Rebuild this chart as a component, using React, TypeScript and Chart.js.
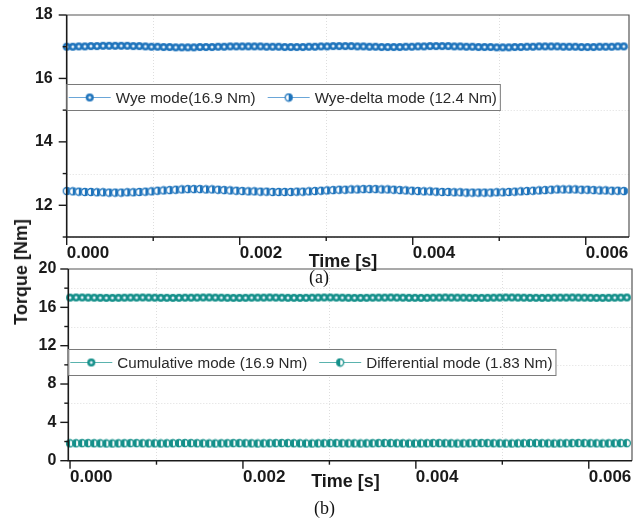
import React, { useEffect, useRef } from 'react';
import { Chart, registerables } from 'chart.js';

Chart.register(...registerables);

// Sample times in microseconds
const TIME_US = [
  0, 70, 140, 210, 280, 350, 420, 490, 560, 630,
  700, 770, 840, 910, 980, 1050, 1120, 1190, 1260, 1330,
  1400, 1470, 1540, 1610, 1680, 1750, 1820, 1890, 1960, 2030,
  2100, 2170, 2240, 2310, 2380, 2450, 2520, 2590, 2660, 2730,
  2800, 2870, 2940, 3010, 3080, 3150, 3220, 3290, 3360, 3430,
  3500, 3570, 3640, 3710, 3780, 3850, 3920, 3990, 4060, 4130,
  4200, 4270, 4340, 4410, 4480, 4550, 4620, 4690, 4760, 4830,
  4900, 4970, 5040, 5110, 5180, 5250, 5320, 5390, 5460, 5530,
  5600, 5670, 5740, 5810, 5880, 5950, 6020, 6090, 6160, 6230,
  6300, 6370, 6440,
];

const WYE = [
  17.00, 17.00, 17.01, 17.01, 17.02, 17.02, 17.03, 17.03, 17.03, 17.03,
  17.03, 17.02, 17.02, 17.01, 17.00, 17.00, 16.99, 16.99, 16.98, 16.98,
  16.98, 16.98, 16.99, 16.99, 16.99, 17.00, 17.00, 17.01, 17.01, 17.01,
  17.01, 17.01, 17.01, 17.00, 17.00, 17.00, 16.99, 16.99, 16.99, 16.99,
  17.00, 17.00, 17.01, 17.01, 17.02, 17.02, 17.02, 17.02, 17.01, 17.01,
  17.00, 17.00, 16.99, 16.99, 16.99, 16.99, 17.00, 17.00, 17.01, 17.01,
  17.02, 17.02, 17.02, 17.02, 17.01, 17.01, 17.00, 17.00, 16.99, 16.99,
  16.99, 16.98, 16.98, 16.98, 16.99, 16.99, 17.00, 17.00, 17.01, 17.01,
  17.01, 17.01, 17.00, 17.00, 17.00, 16.99, 16.99, 16.99, 17.00, 17.00,
  17.00, 17.01, 17.01,
];

const WYE_DELTA = [
  12.45, 12.44, 12.43, 12.42, 12.42, 12.41, 12.41, 12.40, 12.40, 12.40,
  12.41, 12.41, 12.42, 12.43, 12.44, 12.46, 12.47, 12.48, 12.49, 12.50,
  12.51, 12.51, 12.51, 12.50, 12.50, 12.49, 12.48, 12.47, 12.46, 12.45,
  12.44, 12.44, 12.43, 12.43, 12.42, 12.42, 12.42, 12.42, 12.43, 12.43,
  12.44, 12.45, 12.46, 12.47, 12.48, 12.49, 12.49, 12.50, 12.50, 12.51,
  12.51, 12.51, 12.50, 12.50, 12.49, 12.48, 12.47, 12.46, 12.45, 12.44,
  12.44, 12.43, 12.42, 12.42, 12.41, 12.41, 12.40, 12.40, 12.40, 12.40,
  12.40, 12.41, 12.41, 12.42, 12.43, 12.44, 12.45, 12.46, 12.47, 12.48,
  12.49, 12.50, 12.50, 12.50, 12.50, 12.49, 12.49, 12.48, 12.47, 12.47,
  12.46, 12.46, 12.45,
];

const CUMULATIVE = [
  17.02, 17.03, 17.03, 17.02, 17.01, 17.00, 16.99, 16.99, 17.00, 17.01,
  17.02, 17.02, 17.03, 17.02, 17.01, 17.00, 17.00, 16.99, 17.00, 17.01,
  17.01, 17.02, 17.03, 17.03, 17.02, 17.01, 17.00, 16.99, 16.99, 17.00,
  17.01, 17.02, 17.02, 17.03, 17.02, 17.01, 17.00, 17.00, 16.99, 17.00,
  17.01, 17.02, 17.03, 17.03, 17.02, 17.01, 17.00, 16.99, 16.99, 17.00,
  17.01, 17.02, 17.02, 17.03, 17.02, 17.01, 17.00, 17.00, 16.99, 17.00,
  17.01, 17.02, 17.03, 17.02, 17.02, 17.01, 17.00, 16.99, 16.99, 17.00,
  17.01, 17.02, 17.03, 17.03, 17.02, 17.01, 17.00, 17.00, 16.99, 17.00,
  17.01, 17.02, 17.02, 17.03, 17.02, 17.01, 17.00, 16.99, 16.99, 17.00,
  17.01, 17.02, 17.03,
];

const DIFFERENTIAL = [
  1.81, 1.82, 1.83, 1.83, 1.82, 1.81, 1.80, 1.80, 1.81, 1.82,
  1.83, 1.83, 1.82, 1.81, 1.81, 1.80, 1.81, 1.82, 1.83, 1.84,
  1.83, 1.82, 1.81, 1.80, 1.80, 1.81, 1.82, 1.83, 1.83, 1.82,
  1.81, 1.80, 1.81, 1.82, 1.83, 1.84, 1.83, 1.82, 1.81, 1.80,
  1.80, 1.81, 1.82, 1.83, 1.83, 1.82, 1.81, 1.81, 1.80, 1.81,
  1.82, 1.83, 1.84, 1.83, 1.82, 1.81, 1.80, 1.80, 1.81, 1.82,
  1.83, 1.83, 1.82, 1.81, 1.80, 1.81, 1.82, 1.83, 1.84, 1.83,
  1.82, 1.81, 1.80, 1.80, 1.81, 1.82, 1.83, 1.83, 1.82, 1.81,
  1.80, 1.81, 1.82, 1.83, 1.84, 1.83, 1.82, 1.81, 1.80, 1.81,
  1.82, 1.83, 1.83,
];

const TOP_LABELS = ['Wye mode(16.9 Nm)', 'Wye-delta mode (12.4 Nm)'];
const BOTTOM_LABELS = ['Cumulative mode (16.9 Nm)', 'Differential mode (1.83 Nm)'];

const X_MAJOR = [0, 0.002, 0.004, 0.006];
const X_MINOR = [0.001, 0.003, 0.005];
const TOP_Y_MAJOR = [12, 14, 16, 18];
const TOP_Y_MINOR = [11, 13, 15, 17];
const BOT_Y_MAJOR = [0, 4, 8, 12, 16, 20];
const BOT_Y_MINOR = [2, 6, 10, 14, 18];

const BLUE = '#1f74bc';
const BLUE_LINE = '#6aa6d8';
const TEAL = '#15908a';
const TEAL_LINE = '#5ab3ae';

const SANS = '"Liberation Sans", Arial, Helvetica, sans-serif';
const SERIF = '"Liberation Serif", "Times New Roman", serif';

type MarkerKind = 'ring' | 'right' | 'left';

function makeMarker(color: string, kind: MarkerKind): HTMLCanvasElement {
  const c = document.createElement('canvas');
  c.width = 10;
  c.height = 10;
  const g = c.getContext('2d')!;
  const cx = 5, cy = 5, r = 4;
  if (kind === 'ring') {
    g.fillStyle = color;
    g.beginPath();
    g.arc(cx, cy, r, 0, Math.PI * 2);
    g.fill();
    g.fillStyle = '#e6f1fa';
    g.beginPath();
    g.arc(cx, cy, 1.5, 0, Math.PI * 2);
    g.fill();
  } else {
    g.fillStyle = '#ffffff';
    g.beginPath();
    g.arc(cx, cy, r, 0, Math.PI * 2);
    g.fill();
    g.fillStyle = color;
    g.beginPath();
    if (kind === 'right') g.arc(cx, cy, r, -Math.PI / 2, Math.PI / 2);
    else g.arc(cx, cy, r, Math.PI / 2, (Math.PI * 3) / 2);
    g.closePath();
    g.fill();
    g.strokeStyle = color;
    g.lineWidth = 1.3;
    g.beginPath();
    g.arc(cx, cy, r - 0.5, 0, Math.PI * 2);
    g.stroke();
  }
  return c;
}

const framePlugin = {
  id: 'axesFrame',
  beforeDatasetsDraw(chart: any, _args: any, opts: any) {
    const { ctx, chartArea: a, scales } = chart;
    const x = scales.x, y = scales.y;
    ctx.save();
    ctx.strokeStyle = '#dedede';
    ctx.lineWidth = 1;
    ctx.setLineDash([1, 2]);
    for (const v of opts.xMinor) {
      const px = Math.round(x.getPixelForValue(v)) + 0.5;
      ctx.beginPath();
      ctx.moveTo(px, a.top);
      ctx.lineTo(px, a.bottom);
      ctx.stroke();
    }
    for (const v of opts.yMinor) {
      const py = Math.round(y.getPixelForValue(v)) + 0.5;
      ctx.beginPath();
      ctx.moveTo(a.left, py);
      ctx.lineTo(a.right, py);
      ctx.stroke();
    }
    ctx.restore();
  },
  afterDatasetsDraw(chart: any, _args: any, opts: any) {
    const { ctx, chartArea: a, scales } = chart;
    const x = scales.x, y = scales.y;
    ctx.save();
    // top / right frame
    ctx.strokeStyle = '#555555';
    ctx.lineWidth = 1.2;
    ctx.beginPath();
    ctx.moveTo(a.left, a.top);
    ctx.lineTo(a.right, a.top);
    ctx.lineTo(a.right, a.bottom);
    ctx.stroke();
    // left / bottom axes
    ctx.strokeStyle = '#1a1a1a';
    ctx.lineWidth = 1.6;
    ctx.beginPath();
    ctx.moveTo(a.left, a.top);
    ctx.lineTo(a.left, a.bottom);
    ctx.lineTo(a.right, a.bottom);
    ctx.stroke();
    // ticks
    ctx.lineWidth = 1.4;
    const tick = (vals: number[], len: number, isX: boolean) => {
      for (const v of vals) {
        ctx.beginPath();
        if (isX) {
          const px = x.getPixelForValue(v);
          ctx.moveTo(px, a.bottom);
          ctx.lineTo(px, a.bottom + len);
        } else {
          const py = y.getPixelForValue(v);
          ctx.moveTo(a.left, py);
          ctx.lineTo(a.left - len, py);
        }
        ctx.stroke();
      }
    };
    tick(opts.xMajor, 8, true);
    tick(opts.xMinor, 4, true);
    tick(opts.yMajor, 8, false);
    tick(opts.yMinor, 4, false);

    // legend box inside plot
    ctx.font = `15.2px ${SANS}`;
    const boxTop = a.top + opts.legendOffset;
    const boxH = 26;
    const cy = boxTop + boxH / 2;
    const lineLen = 42;
    const gap = 12;
    const items = chart.data.datasets.map((ds: any) => ({
      label: ds.label as string,
      w: ctx.measureText(ds.label).width,
      marker: ds.pointStyle,
      lineColor: ds.legendLine,
    }));
    let total = 2;
    items.forEach((it: any, i: number) => {
      total += lineLen + 5 + it.w + (i < items.length - 1 ? gap : 3);
    });
    ctx.fillStyle = '#ffffff';
    ctx.fillRect(a.left, boxTop, total, boxH);
    ctx.strokeStyle = '#7a7a7a';
    ctx.lineWidth = 1;
    ctx.strokeRect(a.left + 0.5, boxTop + 0.5, total, boxH);
    let cx = a.left + 2;
    items.forEach((it: any) => {
      ctx.strokeStyle = it.lineColor;
      ctx.lineWidth = 1.2;
      ctx.beginPath();
      ctx.moveTo(cx, cy + 0.5);
      ctx.lineTo(cx + lineLen, cy + 0.5);
      ctx.stroke();
      const m = it.marker as HTMLCanvasElement;
      ctx.drawImage(m, cx + lineLen / 2 - m.width / 2, cy - m.height / 2 + 0.5);
      ctx.fillStyle = '#2a2a2a';
      ctx.textBaseline = 'middle';
      ctx.textAlign = 'left';
      ctx.fillText(it.label, cx + lineLen + 5, cy + 1.5);
      cx += lineLen + 5 + it.w + gap;
    });
    ctx.restore();
  },
};

interface ChartSpec {
  series: { label: string; values: number[]; color: string; line: string; kind: MarkerKind }[];
  xMin: number;
  xMax: number;
  yMin: number;
  yMax: number;
  yMajor: number[];
  yMinor: number[];
  padding: { top: number; right: number; bottom: number; left: number };
  yWidth: number;
  xHeight: number;
  yTickPad: number;
  legendOffset: number;
}

const clearPadding = (scale: any) => {
  scale.paddingTop = 0;
  scale.paddingBottom = 0;
  scale.paddingLeft = 0;
  scale.paddingRight = 0;
};

function buildChart(canvas: HTMLCanvasElement, spec: ChartSpec) {
  const datasets = spec.series.map((s) => {
    const marker = makeMarker(s.color, s.kind);
    return {
      label: s.label,
      data: TIME_US.map((t, i) => ({ x: t / 1e6, y: s.values[i] })),
      borderColor: s.color,
      borderWidth: 1,
      pointStyle: marker,
      pointRadius: 4,
      clip: false,
      legendLine: s.line,
    } as any;
  });
  return new Chart(canvas, {
    type: 'line',
    data: { datasets },
    plugins: [framePlugin],
    options: {
      animation: false,
      responsive: false,
      maintainAspectRatio: false,
      layout: { padding: spec.padding, autoPadding: false } as any,
      plugins: {
        legend: { display: false },
        tooltip: { enabled: false },
        axesFrame: {
          xMajor: X_MAJOR,
          xMinor: X_MINOR,
          yMajor: spec.yMajor,
          yMinor: spec.yMinor,
          legendOffset: spec.legendOffset,
        },
      } as any,
      scales: {
        x: {
          type: 'linear',
          min: spec.xMin,
          max: spec.xMax,
          afterBuildTicks: (scale: any) => {
            scale.ticks = X_MAJOR.map((v) => ({ value: v }));
          },
          afterFit: (scale: any) => {
            scale.height = spec.xHeight;
            clearPadding(scale);
          },
          grid: { display: true, drawOnChartArea: false, drawTicks: false, color: 'rgba(0,0,0,0)' },
          border: { display: false },
          ticks: {
            align: 'start',
            padding: 6,
            maxRotation: 0,
            autoSkip: false,
            color: '#1a1a1a',
            font: { family: SANS, size: 17, weight: 'bold' },
            callback: (v: any) => Number(v).toFixed(3),
          },
        },
        y: {
          type: 'linear',
          min: spec.yMin,
          max: spec.yMax,
          afterBuildTicks: (scale: any) => {
            scale.ticks = spec.yMajor.map((v) => ({ value: v }));
          },
          afterFit: (scale: any) => {
            scale.width = spec.yWidth;
            clearPadding(scale);
          },
          grid: { display: true, drawOnChartArea: false, drawTicks: false, color: 'rgba(0,0,0,0)' },
          border: { display: false },
          ticks: {
            padding: spec.yTickPad,
            autoSkip: false,
            color: '#1a1a1a',
            font: { family: SANS, size: 16, weight: 'bold' },
            callback: (v: any) => String(v),
          },
        },
      } as any,
    },
  });
}

const TOP_W = 642, TOP_H = 270;
const BOT_TOP = 255, BOT_H = 268;

export default function App() {
  const topRef = useRef<HTMLCanvasElement>(null);
  const botRef = useRef<HTMLCanvasElement>(null);

  useEffect(() => {
    const top = buildChart(topRef.current!, {
      series: [
        { label: TOP_LABELS[0], values: WYE, color: BLUE, line: BLUE_LINE, kind: 'ring' },
        { label: TOP_LABELS[1], values: WYE_DELTA, color: BLUE, line: BLUE_LINE, kind: 'right' },
      ],
      xMin: 0,
      xMax: 0.0065,
      yMin: 11,
      yMax: 18,
      yMajor: TOP_Y_MAJOR,
      yMinor: TOP_Y_MINOR,
      padding: { top: 15, right: 13, bottom: 0, left: 0 },
      yWidth: 66.7,
      xHeight: TOP_H - 237,
      yTickPad: 14,
      legendOffset: 69,
    });
    const bot = buildChart(botRef.current!, {
      series: [
        { label: BOTTOM_LABELS[0], values: CUMULATIVE, color: TEAL, line: TEAL_LINE, kind: 'ring' },
        { label: BOTTOM_LABELS[1], values: DIFFERENTIAL, color: TEAL, line: TEAL_LINE, kind: 'left' },
      ],
      xMin: -0.00002,
      xMax: 0.0065,
      yMin: 0,
      yMax: 20,
      yMajor: BOT_Y_MAJOR,
      yMinor: BOT_Y_MINOR,
      padding: { top: 14, right: 10, bottom: 0, left: 0 },
      yWidth: 68.3,
      xHeight: BOT_H - (460.7 - BOT_TOP),
      yTickPad: 12,
      legendOffset: 80,
    });
    return () => {
      top.destroy();
      bot.destroy();
    };
  }, []);

  const label = (text: string, cx: number, cy: number, style: React.CSSProperties) => (
    <div
      style={{
        position: 'absolute',
        left: cx,
        top: cy,
        transform: 'translate(-50%, -50%)',
        whiteSpace: 'nowrap',
        lineHeight: 1,
        color: '#1a1a1a',
        ...style,
      }}
    >
      {text}
    </div>
  );

  return (
    <div style={{ position: 'fixed', left: 0, top: 0, width: 642, height: 523, background: '#ffffff', overflow: 'hidden' }}>
      <canvas
        ref={topRef}
        width={TOP_W}
        height={TOP_H}
        style={{ position: 'absolute', left: 0, top: 0, width: TOP_W, height: TOP_H }}
      />
      <canvas
        ref={botRef}
        width={TOP_W}
        height={BOT_H}
        style={{ position: 'absolute', left: 0, top: BOT_TOP, width: TOP_W, height: BOT_H }}
      />
      {label('Time [s]', 343, 261, { fontFamily: SANS, fontWeight: 'bold', fontSize: 18 })}
      {label('(a)', 319, 277, { fontFamily: SERIF, fontSize: 18, color: '#111' })}
      {label('Time [s]', 345.5, 481, { fontFamily: SANS, fontWeight: 'bold', fontSize: 18 })}
      {label('(b)', 324.5, 507.5, { fontFamily: SERIF, fontSize: 18, color: '#111' })}
      {label('Torque [Nm]', 21, 272, {
        fontFamily: SANS,
        fontWeight: 'bold',
        fontSize: 18,
        transform: 'translate(-50%, -50%) rotate(-90deg)',
      })}
    </div>
  );
}
